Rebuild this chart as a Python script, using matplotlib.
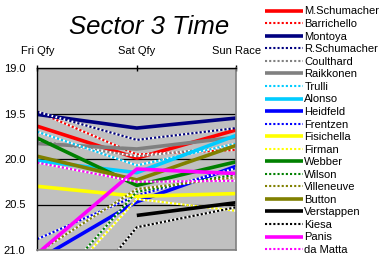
"""
plot.py
Sector 3 Time: Fri Qfy / Sat Qfy / Sun Race のドライバー別折れ線グラフ。
"""

import matplotlib
matplotlib.use("Agg")
import matplotlib.pyplot as plt
import numpy as np

plt.rcParams["font.family"] = ["Liberation Sans", "DejaVu Sans"]

# ── データ ──────────────────────────────────────────────────────
SESSIONS = ["Fri Qfy", "Sat Qfy", "Sun Race"]

DRIVERS = [
    "M.Schumacher", "Barrichello", "Montoya", "R.Schumacher", "Coulthard",
    "Raikkonen", "Trulli", "Alonso", "Heidfeld", "Frentzen",
    "Fisichella", "Firman", "Webber", "Wilson", "Villeneuve",
    "Button", "Verstappen", "Kiesa", "Panis", "da Matta",
]

FRI_QFY = [19.64, 19.48, 19.51, 19.48, 19.80, 19.83, 19.70, 20.02, 21.11, 20.88,
           20.30, 21.65, 19.77, 21.59, 21.03, 19.97, np.nan, 22.08, 21.04, 20.04]
SAT_QFY = [19.99, 19.95, 19.66, 19.79, 19.97, 19.89, 20.07, 20.15, 20.47, 20.40,
           20.41, 20.44, 20.29, 20.36, 20.33, 20.23, 20.62, 20.75, 20.11, 20.25]
SUN_RACE = [19.68, 19.90, 19.55, 19.66, 19.86, 19.76, 19.83, 19.74, 20.08, 20.10,
            20.38, 20.57, 20.03, 20.17, 20.20, 19.85, 20.48, 20.53, 20.16, 20.24]

Y_TICKS = [19.0, 19.5, 20.0, 20.5, 21.0]

# ── スタイル ────────────────────────────────────────────────────
COLORS = [
    "#FF0000", "#FF0000", "#000080", "#000080", "#808080",
    "#808080", "#00CCFF", "#00CCFF", "#0000FF", "#0000FF",
    "#FFFF00", "#FFFF00", "#008000", "#008000", "#808000",
    "#808000", "#000000", "#000000", "#FF00FF", "#FF00FF",
]
# True = 太い実線, False = 白抜き点線
SOLID = [True, False, True, False, False,
         True, False, True, True, False,
         True, False, True, False, False,
         True, True, False, True, False]

W, H = 383, 266
fig = plt.figure(figsize=(W / 100, H / 100), dpi=100)
ax = fig.add_axes([37.3 / W, 1 - 250 / H, 199 / W, 182 / H])
ax.set_facecolor("#C0C0C0")

x = np.arange(len(SESSIONS))
for i, name in enumerate(DRIVERS):
    y = [FRI_QFY[i], SAT_QFY[i], SUN_RACE[i]]
    if SOLID[i]:
        ax.plot(x, y, color=COLORS[i], lw=2.6, solid_capstyle="butt",
                label=name)
    else:
        ax.plot(x, y, color=COLORS[i], lw=1.5, linestyle=(0, (1, 1)),
                gapcolor="white", label=name)

ax.set_xlim(0, 2)
ax.set_ylim(21.0, 19.0)
ax.set_yticks(Y_TICKS)
ax.set_yticklabels([f"{v:.1f}" for v in Y_TICKS], fontsize=8)
ax.tick_params(axis="y", length=0, pad=8.5)

ax.xaxis.tick_top()
ax.set_xticks(x)
ax.set_xticklabels(SESSIONS, fontsize=8)
ax.tick_params(axis="x", length=4, direction="inout", width=1, pad=7)

ax.yaxis.grid(True, color="black", lw=0.9)
ax.set_axisbelow(True)

for side in ("left", "top"):
    ax.spines[side].set_color("black")
    ax.spines[side].set_linewidth(1)
for side in ("right", "bottom"):
    ax.spines[side].set_color("#808080")
    ax.spines[side].set_linewidth(1.2)

fig.text(149 / W, 1 - 27 / H, "Sector 3 Time", fontsize=18.5,
         style="italic", ha="center", va="center")

fig.legend(loc="upper left", bbox_to_anchor=(265 / W, 1 - 6.5 / H),
           frameon=False, fontsize=8, handlelength=3.4, handletextpad=0.15,
           labelspacing=0.23, borderpad=0, borderaxespad=0)

fig.savefig("out.png", dpi=100)
